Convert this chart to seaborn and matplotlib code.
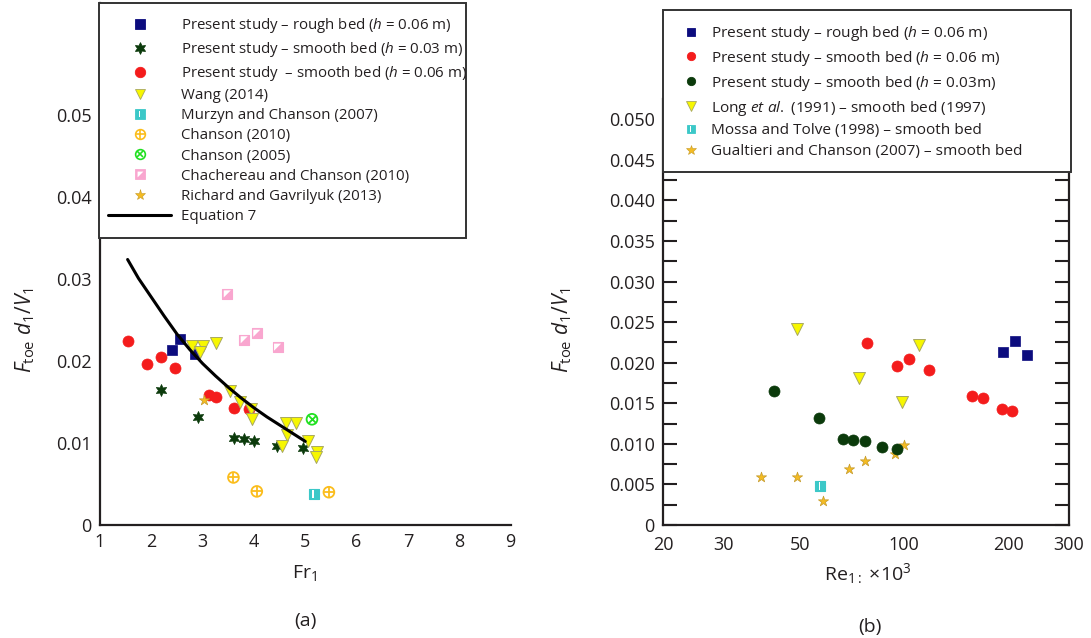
import numpy as np
import pandas as pd
import matplotlib
matplotlib.use("Agg")
import matplotlib.pyplot as plt
import seaborn as sns
from matplotlib.lines import Line2D
from matplotlib.patches import Rectangle
from matplotlib.legend_handler import HandlerTuple
from matplotlib.ticker import FixedLocator, FuncFormatter, MultipleLocator

# ---------------- data ----------------
# Present study (same measurements, shown against Fr1 and Re1)
rough06_ftoe = [0.0213, 0.0227, 0.0209]
rough06_fr = [2.40, 2.565, 2.845]
rough06_re = [193.9, 210.0, 227.0]

smooth06_ftoe = [0.0224, 0.0196, 0.0205, 0.0191, 0.0159, 0.0156, 0.0143, 0.0141]
smooth06_fr = [1.54, 1.92, 2.18, 2.47, 3.12, 3.26, 3.62, 3.91]
smooth06_re = [78.2, 95.1, 103.5, 117.8, 157.6, 168.9, 192.1, 205.0]

smooth03_ftoe = [0.0165, 0.0132, 0.0106, 0.0105, 0.0103, 0.0096, 0.0094]
smooth03_fr = [2.18, 2.90, 3.62, 3.80, 4.01, 4.45, 4.95]
smooth03_re = [42.0, 56.8, 66.4, 71.2, 77.0, 86.1, 95.1]

# Other studies, panel (a)
wang_fr = [2.79, 3.00, 2.955, 3.26, 3.525, 3.733, 3.94, 3.97, 4.62, 4.82, 4.64, 4.545, 5.05, 5.23, 5.20]
wang_ftoe = [0.0218, 0.0218, 0.0211, 0.0222, 0.0164, 0.0150, 0.0141, 0.0129, 0.0125, 0.0125,
             0.0110, 0.0096, 0.0102, 0.0089, 0.0083]
murzyn_fr = [5.16]
murzyn_ftoe = [0.0038]
chanson2010_fr = [3.60, 4.055, 5.46]
chanson2010_ftoe = [0.0058, 0.0041, 0.0040]
chanson2005_fr = [5.13]
chanson2005_ftoe = [0.0129]
chachereau_fr = [3.48, 3.81, 4.055, 4.46]
chachereau_ftoe = [0.0282, 0.0226, 0.0234, 0.0217]
richard_fr = [3.03]
richard_ftoe = [0.0152]

# Equation 7
eq7_fr = [1.538, 1.75, 2.0, 2.25, 2.5, 2.75, 3.0, 3.25, 3.5, 3.75, 4.0, 4.25, 4.5, 4.75, 5.0]
eq7_ftoe = [0.0324, 0.0301, 0.0278, 0.0255, 0.0233, 0.0214, 0.0197, 0.0182, 0.0168,
            0.0155, 0.0143, 0.0132, 0.0122, 0.0112, 0.0102]

# Other studies, panel (b)
long_re = [49.0, 74.1, 98.4, 110.2]
long_ftoe = [0.0241, 0.0181, 0.0151, 0.0222]
mossa_re = [57.0]
mossa_ftoe = [0.0048]
gualtieri_re = [38.4, 48.8, 58.0, 69.2, 77.0, 94.1, 100.1]
gualtieri_ftoe = [0.0059, 0.0059, 0.0029, 0.0069, 0.0079, 0.0088, 0.0099]

fr_ticks = [1, 2, 3, 4, 5, 6, 7, 8, 9]
ftoe_ticks_a = [0, 0.01, 0.02, 0.03, 0.04, 0.05]
re_labelled = [20, 30, 50, 100, 200, 300]

# ---------------- style ----------------
sns.set_theme(style="white")
plt.rcParams["font.family"] = ["Open Sans", "DejaVu Sans"]
plt.rcParams["mathtext.fontset"] = "custom"
plt.rcParams["mathtext.rm"] = "Open Sans"
plt.rcParams["mathtext.it"] = "Open Sans:italic"
plt.rcParams["mathtext.bf"] = "Open Sans:bold"
plt.rcParams["mathtext.sf"] = "Open Sans"
plt.rcParams["legend.numpoints"] = 1

INK = "#231f20"
NAVY = "#0c0c7e"
DKGREEN = "#0b3a0b"
RED = "#f41c1c"
YELLOW = "#f7f700"
YEDGE = "#a8a860"
CYAN = "#3cc8c8"
ORANGE = "#fbbd1c"
LGREEN = "#20e020"
PINK = "#f9a6cf"
GOLD = "#f4bb22"
GEDGE = "#c49a2a"

HEX_STAR = (6, 1, 0)
BAR = [(-0.30, -1.0), (0.05, -1.0), (0.05, 1.0), (-0.30, 1.0)]
UPPER_LEFT = [(-1, -1), (1, 1), (-1, 1)]

W, H = 1091, 638
fig = plt.figure(figsize=(W / 100, H / 100), dpi=100)


def fx(px):
    return px / W


def fy(py):
    return 1 - py / H


axA = fig.add_axes([fx(100), 113 / H, 410.6 / W, 522 / H])
axB = fig.add_axes([fx(663), 113 / H, 405.8 / W, 426 / H])


def pts(ax, x, y, **kw):
    sns.scatterplot(x=x, y=y, ax=ax, legend=False, zorder=3, **kw)


# ---------------- panel (a) ----------------
sns.lineplot(x=eq7_fr, y=eq7_ftoe, sort=False, color="black", lw=2.2, ax=axA, zorder=4)

pts(axA, chachereau_fr, chachereau_ftoe, marker="s", s=62, color=PINK, edgecolor=PINK, linewidth=0.8)
pts(axA, chachereau_fr, chachereau_ftoe, marker=UPPER_LEFT, s=26, color="white", edgecolor="none")
pts(axA, chanson2010_fr, chanson2010_ftoe, marker="o", s=60, facecolor="none", edgecolor=ORANGE, linewidth=1.3)
pts(axA, chanson2010_fr, chanson2010_ftoe, marker="+", s=60, color=ORANGE, linewidth=1.3)
pts(axA, chanson2005_fr, chanson2005_ftoe, marker="o", s=60, facecolor="none", edgecolor=LGREEN, linewidth=1.3)
pts(axA, chanson2005_fr, chanson2005_ftoe, marker="x", s=30, color=LGREEN, linewidth=1.3)
pts(axA, murzyn_fr, murzyn_ftoe, marker="s", s=52, color=CYAN, edgecolor=CYAN, linewidth=0.8)
pts(axA, murzyn_fr, murzyn_ftoe, marker=BAR, s=28, color="white", edgecolor="none")
pts(axA, smooth06_fr, smooth06_ftoe, marker="o", s=63, color=RED, edgecolor=RED, linewidth=0.5)
pts(axA, rough06_fr, rough06_ftoe, marker="s", s=55, color=NAVY, edgecolor=NAVY, linewidth=0.5)
pts(axA, smooth03_fr, smooth03_ftoe, marker=HEX_STAR, s=75, color=DKGREEN, edgecolor=DKGREEN, linewidth=0.5)
pts(axA, wang_fr, wang_ftoe, marker="v", s=74, color=YELLOW, edgecolor=YEDGE, linewidth=0.7)
pts(axA, richard_fr, richard_ftoe, marker="*", s=60, color=GOLD, edgecolor=GEDGE, linewidth=0.5)

axA.set_xlim(1, 9)
axA.set_ylim(0, 0.0637)
axA.xaxis.set_major_locator(FixedLocator(fr_ticks))
axA.yaxis.set_major_locator(FixedLocator(ftoe_ticks_a))
axA.yaxis.set_major_formatter(FuncFormatter(lambda v, p: "0" if abs(v) < 1e-12 else f"{v:.2f}"))
axA.xaxis.set_major_formatter(FuncFormatter(lambda v, p: f"{v:.0f}"))

# ---------------- panel (b) ----------------
pts(axB, mossa_re, mossa_ftoe, marker="s", s=52, color=CYAN, edgecolor=CYAN, linewidth=0.8)
pts(axB, mossa_re, mossa_ftoe, marker=BAR, s=28, color="white", edgecolor="none")
pts(axB, gualtieri_re, gualtieri_ftoe, marker="*", s=60, color=GOLD, edgecolor=GEDGE, linewidth=0.5)
pts(axB, long_re, long_ftoe, marker="v", s=74, color=YELLOW, edgecolor=YEDGE, linewidth=0.7)
pts(axB, smooth03_re, smooth03_ftoe, marker="o", s=63, color=DKGREEN, edgecolor=DKGREEN, linewidth=0.5)
pts(axB, smooth06_re, smooth06_ftoe, marker="o", s=63, color=RED, edgecolor=RED, linewidth=0.5)
pts(axB, rough06_re, rough06_ftoe, marker="s", s=52, color=NAVY, edgecolor=NAVY, linewidth=0.5)

axB.set_xscale("log")
axB.set_xlim(20, 300)
axB.set_ylim(0, 0.0525)
axB.xaxis.set_major_locator(FixedLocator([100]))
axB.xaxis.set_major_formatter(FuncFormatter(lambda v, p: f"{v:.0f}"))
axB.xaxis.set_minor_locator(FixedLocator([20, 30, 40, 50, 60, 70, 80, 90, 200, 300]))
axB.xaxis.set_minor_formatter(FuncFormatter(lambda v, p: f"{v:.0f}" if round(v) in re_labelled else ""))
axB.yaxis.set_major_locator(MultipleLocator(0.005))
axB.yaxis.set_minor_locator(MultipleLocator(0.0025))
axB.yaxis.set_major_formatter(FuncFormatter(lambda v, p: "0" if abs(v) < 1e-12 else f"{v:.3f}"))

# ---------------- axes styling ----------------
for ax in (axA, axB):
    ax.set_xlabel("")
    ax.set_ylabel("")
    ax.set_facecolor("white")
    ax.spines["top"].set_visible(False)
    for sp in ("left", "bottom", "right"):
        ax.spines[sp].set_color(INK)
        ax.spines[sp].set_linewidth(1.6)
    ax.tick_params(which="both", direction="in", colors=INK, labelcolor=INK,
                   labelsize=13, width=1.5)

axA.spines["right"].set_visible(False)
axA.tick_params(which="major", length=10, pad=6)

axB.tick_params(axis="y", which="both", length=10, pad=6, right=True, left=True)
axB.tick_params(axis="x", which="major", length=11, pad=8)
axB.tick_params(axis="x", which="minor", length=6, pad=8, labelsize=13)

# ---------------- labels ----------------
ylab = r"$F_{\mathrm{toe}}\ d_1/V_1$"
fig.text(fx(25), fy(330), ylab, rotation=90, ha="center", va="center", fontsize=15, color=INK)
fig.text(fx(562), fy(330), ylab, rotation=90, ha="center", va="center", fontsize=15, color=INK)
fig.text(fx(305), fy(573), r"Fr$_1$", ha="center", va="center", fontsize=14, color=INK)
fig.text(fx(305), fy(621), "(a)", ha="center", va="center", fontsize=14, color=INK)
fig.text(fx(868), fy(574), r"Re$_{1:}$ ×10$^3$", ha="center", va="center", fontsize=14, color=INK)
fig.text(fx(870), fy(627), "(b)", ha="center", va="center", fontsize=14, color=INK)

# ---------------- legends ----------------
def mk(marker, color, ms, face=None, edge=None, mew=0.6):
    return Line2D([], [], linestyle="none", marker=marker, markersize=ms,
                  markerfacecolor=color if face is None else face,
                  markeredgecolor=color if edge is None else edge, markeredgewidth=mew)


def legend_box(x0, y0, x1, y1):
    fig.patches.append(Rectangle((fx(x0), fy(y1)), fx(x1) - fx(x0), fy(y0) - fy(y1),
                                 transform=fig.transFigure, facecolor="white",
                                 edgecolor="#333333", linewidth=1.4, zorder=4))


handlesA = [
    mk("s", NAVY, 7),
    mk(HEX_STAR, DKGREEN, 8.5),
    mk("o", RED, 7.5),
    mk("v", YELLOW, 7.5, edge=YEDGE),
    (mk("s", CYAN, 6.5), mk(BAR, "white", 5, edge="none", mew=0)),
    (mk("o", ORANGE, 7, face="none", mew=1.2), mk("+", ORANGE, 7, mew=1.2)),
    (mk("o", LGREEN, 7, face="none", mew=1.2), mk("x", LGREEN, 5, mew=1.2)),
    (mk("s", PINK, 6.5), mk(UPPER_LEFT, "white", 4.2, edge="none", mew=0)),
    mk("*", GOLD, 8, edge=GEDGE, mew=0.4),
    Line2D([], [], color="black", lw=2.2),
]
labelsA = [
    r"Present study – rough bed ($h$ = 0.06 m)",
    r"Present study – smooth bed ($h$ = 0.03 m)",
    r"Present study  – smooth bed ($h$ = 0.06 m)",
    "Wang (2014)",
    "Murzyn and Chanson (2007)",
    "Chanson (2010)",
    "Chanson (2005)",
    "Chachereau and Chanson (2010)",
    "Richard and Gavrilyuk (2013)",
    "Equation 7",
]

handlesB = [
    mk("s", NAVY, 5.5),
    mk("o", RED, 6),
    mk("o", DKGREEN, 6),
    mk("v", YELLOW, 6.5, edge=YEDGE),
    (mk("s", CYAN, 5.5), mk(BAR, "white", 4.2, edge="none", mew=0)),
    mk("*", GOLD, 7, edge=GEDGE, mew=0.4),
]
labelsB = [
    r"Present study – rough bed ($h$ = 0.06 m)",
    r"Present study – smooth bed ($h$ = 0.06 m)",
    r"Present study – smooth bed ($h$ = 0.03m)",
    r"Long $et\ al.$ (1991) – smooth bed (1997)",
    "Mossa and Tolve (1998) – smooth bed",
    "Gualtieri and Chanson (2007) – smooth bed",
]

legend_box(99, 3, 466, 238)
legend_box(663, 10, 1071, 172)

fsA, fsB = 10.8, 11.1
pxA, pxB = fsA * 100 / 72, fsB * 100 / 72

legA = fig.legend(handlesA, labelsA, loc="upper left",
                  bbox_to_anchor=(fx(108), fy(16)), bbox_transform=fig.transFigure,
                  borderaxespad=0, borderpad=0,
                  handler_map={tuple: HandlerTuple(ndivide=1)},
                  fontsize=fsA, labelspacing=0.34, handlelength=63 / pxA,
                  handletextpad=10 / pxA, frameon=False)
legB = fig.legend(handlesB, labelsB, loc="upper left",
                  bbox_to_anchor=(fx(680), fy(24)), bbox_transform=fig.transFigure,
                  borderaxespad=0, borderpad=0,
                  handler_map={tuple: HandlerTuple(ndivide=1)},
                  fontsize=fsB, labelspacing=0.38, handlelength=22 / pxB,
                  handletextpad=9 / pxB, frameon=False)

for leg in (legA, legB):
    leg.set_zorder(6)
    for t in leg.get_texts():
        t.set_color(INK)

fig.savefig("out.png", dpi=100, facecolor="white")
